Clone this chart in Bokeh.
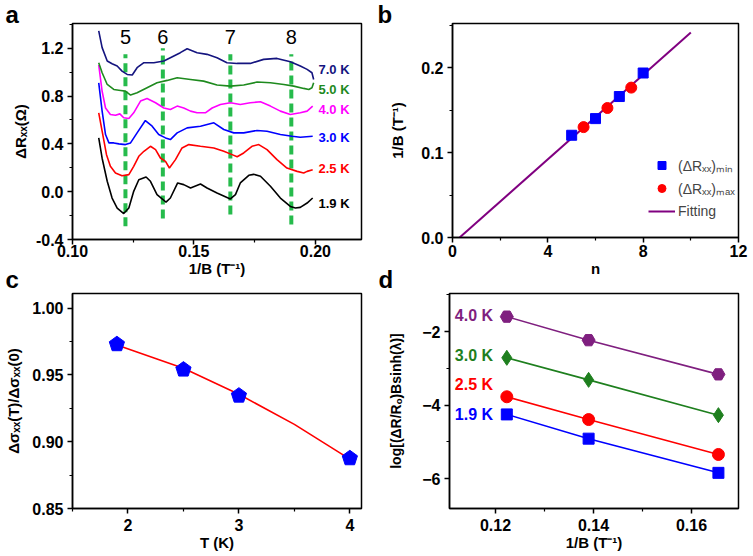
import math
from bokeh.plotting import figure
from bokeh.layouts import row, column
from bokeh.models import (Title, Legend, LegendItem, FixedTicker,
                          NumeralTickFormatter, Range1d)
from bokeh.core.properties import value
from bokeh.embed import file_html
from bokeh.resources import INLINE

FONT = "Liberation Sans"

# ---------------- Panel a data ----------------
a_x_19 = [0.1108, 0.1122, 0.1143, 0.1163, 0.1184, 0.1211, 0.1232, 0.1252, 0.1273, 0.1303, 0.1321,
          0.1348, 0.1385, 0.1403, 0.1433, 0.1458, 0.1486, 0.1527, 0.1554, 0.1595, 0.1650, 0.1671,
          0.1691, 0.1726, 0.1746, 0.1774, 0.1815, 0.1856, 0.1897, 0.1918, 0.1938, 0.1966, 0.1989]
a_y_19 = [0.45, 0.28, 0.087, -0.053, -0.137, -0.183, -0.137, 0.003, 0.10, 0.123, 0.087,
          -0.025, -0.087, -0.053, 0.073, 0.059, 0.031, 0.064, 0.031, -0.011, -0.061, -0.025,
          0.073, 0.137, 0.145, 0.129, 0.045, -0.053, -0.123, -0.137, -0.131, -0.095, -0.053]

a_x_25 = [0.1108, 0.1122, 0.1140, 0.1156, 0.1177, 0.1204, 0.1232, 0.1252, 0.1273, 0.1294, 0.1321,
          0.1342, 0.1362, 0.1383, 0.1399, 0.1424, 0.1451, 0.1479, 0.1527, 0.1582, 0.1623, 0.1657,
          0.1678, 0.1705, 0.1739, 0.1767, 0.1801, 0.1842, 0.1883, 0.1925, 0.1952, 0.1966, 0.1989]
a_y_25 = [0.66, 0.506, 0.31, 0.212, 0.157, 0.134, 0.143, 0.212, 0.296, 0.338, 0.38,
          0.352, 0.282, 0.254, 0.198, 0.268, 0.366, 0.394, 0.38, 0.366, 0.338, 0.31,
          0.292, 0.324, 0.38, 0.394, 0.352, 0.268, 0.198, 0.17, 0.157, 0.17, 0.184]

a_x_30 = [0.1108, 0.1122, 0.1136, 0.1150, 0.1170, 0.1191, 0.1218, 0.1239, 0.1266, 0.1300, 0.1328,
          0.1355, 0.1383, 0.1403, 0.1431, 0.1472, 0.1527, 0.1582, 0.1623, 0.1664, 0.1705, 0.1760,
          0.1801, 0.1856, 0.1904, 0.1938, 0.1989]
a_y_30 = [0.91, 0.674, 0.478, 0.408, 0.408, 0.40, 0.394, 0.408, 0.492, 0.595, 0.548,
          0.478, 0.45, 0.436, 0.492, 0.534, 0.548, 0.576, 0.52, 0.492, 0.492, 0.512,
          0.506, 0.478, 0.464, 0.456, 0.464]

a_x_40 = [0.1108, 0.1122, 0.1136, 0.1156, 0.1177, 0.1195, 0.1211, 0.1232, 0.1252, 0.1280, 0.1307,
          0.1342, 0.1376, 0.1403, 0.1431, 0.1458, 0.1486, 0.1513, 0.1547, 0.1575, 0.1609, 0.1650,
          0.1691, 0.1732, 0.1774, 0.1815, 0.1856, 0.1897, 0.1938, 0.1966, 0.1989]
a_y_40 = [1.06, 0.84, 0.70, 0.646, 0.64, 0.651, 0.618, 0.612, 0.66, 0.758, 0.78,
          0.744, 0.70, 0.688, 0.716, 0.70, 0.674, 0.66, 0.66, 0.70, 0.73, 0.744,
          0.73, 0.744, 0.752, 0.716, 0.674, 0.646, 0.66, 0.674, 0.716]

a_x_50 = [0.1108, 0.1122, 0.1143, 0.1170, 0.1198, 0.1218, 0.1239, 0.1266, 0.1307, 0.1348, 0.1390,
          0.1431, 0.1486, 0.1540, 0.1595, 0.1650, 0.1705, 0.1760, 0.1815, 0.1870, 0.1911, 0.1952,
          0.1973, 0.1986, 0.1993]
a_y_50 = [1.079, 0.995, 0.897, 0.855, 0.847, 0.841, 0.808, 0.827, 0.869, 0.911, 0.931,
          0.953, 0.939, 0.925, 0.892, 0.883, 0.892, 0.917, 0.911, 0.897, 0.883, 0.864,
          0.855, 0.869, 0.911]

a_x_70 = [0.1108, 0.1122, 0.1143, 0.1163, 0.1184, 0.1204, 0.1225, 0.1246, 0.1266, 0.1294, 0.1335,
          0.1376, 0.1403, 0.1444, 0.1472, 0.1513, 0.1554, 0.1595, 0.1636, 0.1678, 0.1732, 0.1787,
          0.1842, 0.1897, 0.1938, 0.1966, 0.1986, 0.1993]
a_y_70 = [1.345, 1.205, 1.093, 1.07, 1.051, 1.009, 0.981, 0.976, 1.037, 1.079, 1.079,
          1.093, 1.121, 1.163, 1.196, 1.163, 1.149, 1.121, 1.079, 1.073, 1.073, 1.107,
          1.115, 1.087, 1.051, 1.023, 0.995, 0.939]

a_labels = ["1.9 K", "2.5 K", "3.0 K", "4.0 K", "5.0 K", "7.0 K"]
a_label_y = [-0.095, 0.198, 0.45, 0.688, 0.855, 1.023]
a_colors = ["#000000", "#ff0000", "#0000ff", "#ff00ff", "#1e8a1e", "#14147f"]

# Landau level positions (dashed lines)
ll_index = ["5", "6", "7", "8"]
ll_pos = [0.1218, 0.1372, 0.1650, 0.1901]
ll_top = [1.15, 1.20, 1.15, 1.15]
ll_bottom = [-0.29, -0.225, -0.19, -0.275]

# ---------------- Panel b data ----------------
b_n_min = [5, 6, 7, 8]
b_invb_min = [0.1204, 0.140, 0.166, 0.1937]
b_n_max = [5.5, 6.5, 7.5]
b_invb_max = [0.130, 0.1525, 0.1765]
b_fit_n = [0.3, 10.0]
b_fit_invb = [0.0, 0.2415]

# ---------------- Panel c data ----------------
c_T = [1.9, 2.5, 3.0, 4.0]
c_ratio = [0.973, 0.954, 0.9345, 0.8876]
c_fit_T = [1.9, 2.5, 3.0, 3.5, 4.0]
c_fit_ratio = [0.9725, 0.955, 0.9355, 0.913, 0.887]

# ---------------- Panel d data ----------------
d_invb = [0.1223, 0.1390, 0.1655]
d_19 = [-4.25, -4.91, -5.84]
d_25 = [-3.77, -4.39, -5.34]
d_30 = [-2.71, -3.31, -4.27]
d_40 = [-1.59, -2.23, -3.16]
d_labels = ["1.9 K", "2.5 K", "3.0 K", "4.0 K"]
d_label_y = [-4.25, -3.43, -2.64, -1.556]
d_colors = ["#0000ff", "#ff0000", "#1e7f1e", "#7f1f7f"]


def style(p, xlabel, ylabel, xstand, ylabstand, ylabsize="15px"):
    p.outline_line_color = "black"
    p.outline_line_width = 1.5
    p.grid.visible = False
    p.background_fill_color = "white"
    p.border_fill_color = "white"
    for ax in (p.xaxis[0], p.yaxis[0]):
        ax.axis_line_width = 1.5
        ax.major_tick_line_width = 1.5
        ax.minor_tick_line_width = 1.2
        ax.major_tick_out = 5
        ax.major_tick_in = 0
        ax.minor_tick_out = 3
        ax.minor_tick_in = 0
        ax.major_label_text_font = FONT
        ax.major_label_text_font_style = "bold"
        ax.major_label_text_color = "black"
        ax.major_label_text_font_size = "16px"
        ax.axis_label_text_font = FONT
        ax.axis_label_text_font_style = "bold"
        ax.axis_label_text_font_size = "15px"
        ax.axis_label_text_color = "black"
    p.yaxis[0].axis_label_text_font_size = ylabsize
    p.xaxis[0].axis_label = xlabel
    p.yaxis[0].axis_label = ylabel
    p.xaxis[0].major_label_standoff = xstand
    p.yaxis[0].major_label_standoff = 4
    p.xaxis[0].axis_label_standoff = 0
    p.yaxis[0].axis_label_standoff = ylabstand


def letter(p, txt, side, offset, valign, standoff):
    p.add_layout(Title(text=txt, align="left", offset=offset, vertical_align=valign,
                       standoff=standoff, text_font=FONT, text_font_style="bold",
                       text_font_size="24px", text_color="black"), side)


# ================= Panel a =================
pa = figure(output_backend="svg", toolbar_location=None, title=None,
            frame_width=289, frame_height=216,
            min_border_left=72, min_border_right=15, min_border_top=23, min_border_bottom=53,
            x_range=Range1d(0.10, 0.219), y_range=Range1d(-0.4, 1.407))
style(pa, "1/B (T⁻¹)", "ΔRₓₓ(Ω)", 0, 4)
pa.xaxis[0].ticker = FixedTicker(ticks=[0.10, 0.15, 0.20], minor_ticks=[0.125, 0.175])
pa.xaxis[0].formatter = NumeralTickFormatter(format="0.00")
pa.yaxis[0].ticker = FixedTicker(ticks=[-0.4, 0.0, 0.4, 0.8, 1.2],
                                 minor_ticks=[-0.2, 0.2, 0.6, 1.0, 1.4])
pa.yaxis[0].formatter = NumeralTickFormatter(format="0.0")

pa.segment(x0=ll_pos, y0=ll_bottom, x1=ll_pos, y1=ll_top, line_color="#26bb4c",
           line_width=4, line_dash="9 5")
curves = [(a_x_19, a_y_19), (a_x_25, a_y_25), (a_x_30, a_y_30),
          (a_x_40, a_y_40), (a_x_50, a_y_50), (a_x_70, a_y_70)]
for (xs, ys), col in zip(curves, a_colors):
    pa.line(xs, ys, line_color=col, line_width=1.6)
for lab, ly, col in zip(a_labels, a_label_y, a_colors):
    pa.text(x=[0.2013], y=[ly], text=[lab], text_color=col, text_font=value(FONT),
            text_font_style="bold", text_font_size="13px", text_baseline="middle", text_align="left")
pa.text(x=ll_pos, y=[1.235] * 4, text=ll_index, text_color="black", text_font=value(FONT),
        text_font_size="20px", text_baseline="bottom", text_align="center")
letter(pa, "a", "above", -67, "bottom", -8)
letter(pa, "c", "below", -67, "top", -28)

# ================= Panel b =================
pb = figure(output_backend="svg", toolbar_location=None, title=None,
            frame_width=286, frame_height=214,
            min_border_left=76, min_border_right=15, min_border_top=23, min_border_bottom=55,
            x_range=Range1d(0, 12), y_range=Range1d(0, 0.252))
style(pb, "n", "1/B (T⁻¹)", 2, 12)
pb.xaxis[0].ticker = FixedTicker(ticks=[0, 4, 8, 12], minor_ticks=[2, 6, 10])
pb.yaxis[0].ticker = FixedTicker(ticks=[0.0, 0.1, 0.2], minor_ticks=[0.05, 0.15, 0.25])
pb.yaxis[0].formatter = NumeralTickFormatter(format="0.0")
fit_r = pb.line(b_fit_n, b_fit_invb, line_color="#800080", line_width=2)
sq_r = pb.scatter(b_n_min, b_invb_min, marker="square", size=10, fill_color="#0000ff",
                  line_color="#0000ff")
ci_r = pb.scatter(b_n_max, b_invb_max, marker="circle", size=11, fill_color="#ff0000",
                  line_color="#ff0000")
leg = Legend(items=[LegendItem(label="(ΔRₓₓ)ₘᵢₙ", renderers=[sq_r]),
                    LegendItem(label="(ΔRₓₓ)ₘₐₓ", renderers=[ci_r]),
                    LegendItem(label="Fitting", renderers=[fit_r])],
             location=(194, 14), background_fill_alpha=0, border_line_alpha=0,
             label_text_font=FONT, label_text_font_size="14px", glyph_width=27,
             glyph_height=20, label_height=20, spacing=3, label_standoff=3, padding=2,
             margin=0)
pb.add_layout(leg)
letter(pb, "b", "above", -75, "bottom", -8)
letter(pb, "d", "below", -74, "top", -28)

# ================= Panel c =================
C_XR = (1.5, 4.105)
C_YR = (0.85, 1.011)
C_FW, C_FH = 289, 215
pc = figure(output_backend="svg", toolbar_location=None, title=None,
            frame_width=C_FW, frame_height=C_FH,
            min_border_left=72, min_border_right=15, min_border_top=1, min_border_bottom=48,
            x_range=Range1d(*C_XR), y_range=Range1d(*C_YR))
style(pc, "T (K)", "Δσₓₓ(T)/Δσₓₓ(0)", 5, 7)
pc.xaxis[0].ticker = FixedTicker(ticks=[2, 3, 4], minor_ticks=[1.5, 2.5, 3.5])
pc.yaxis[0].ticker = FixedTicker(ticks=[0.85, 0.90, 0.95, 1.00],
                                 minor_ticks=[0.875, 0.925, 0.975])
pc.yaxis[0].formatter = NumeralTickFormatter(format="0.00")
pc.line(c_fit_T, c_fit_ratio, line_color="#ff0000", line_width=1.6)
# pentagon markers (shape in pixels converted to data units)
px_x = (C_XR[1] - C_XR[0]) / C_FW
px_y = (C_YR[1] - C_YR[0]) / C_FH
R = 8.0
pent_xs, pent_ys = [], []
for cx, cy in zip(c_T, c_ratio):
    angs = [math.pi / 2 + k * 2 * math.pi / 5 for k in range(5)]
    pent_xs.append([cx + R * math.cos(t) * px_x for t in angs])
    pent_ys.append([cy + R * math.sin(t) * px_y for t in angs])
pc.patches(pent_xs, pent_ys, fill_color="#0000ff", line_color="#0000ff", line_width=1)

# ================= Panel d =================
pd_ = figure(output_backend="svg", toolbar_location=None, title=None,
             frame_width=289, frame_height=215,
             min_border_left=73, min_border_right=15, min_border_top=1, min_border_bottom=48,
             x_range=Range1d(0.1106, 0.1696), y_range=Range1d(-6.81, -0.96))
style(pd_, "1/B (T⁻¹)", "log[(ΔR/Rₒ)Bsinh(λ)]", 5, 15, "14px")
pd_.xaxis[0].ticker = FixedTicker(ticks=[0.12, 0.14, 0.16], minor_ticks=[0.13, 0.15])
pd_.xaxis[0].formatter = NumeralTickFormatter(format="0.00")
pd_.yaxis[0].ticker = FixedTicker(ticks=[-6, -4, -2], minor_ticks=[-5, -3, -1])
d_series = [d_19, d_25, d_30, d_40]
d_markers = ["square", "circle", "diamond", "hex"]
d_sizes = [11, 12, 15, 13]
for ys, col, mk, sz in zip(d_series, d_colors, d_markers, d_sizes):
    pd_.line(d_invb, ys, line_color=col, line_width=1.6)
    pd_.scatter(d_invb, ys, marker=mk, size=sz, fill_color=col, line_color=col)
pd_.text(x=[0.1195] * 4, y=d_label_y, text=d_labels, text_color=d_colors,
         text_font=value(FONT), text_font_style="bold", text_font_size="16px",
         text_baseline="middle", text_align="right")

layout = column(row(pa, pb), row(pc, pd_))
open("out.html", "w").write(file_html(layout, INLINE))
